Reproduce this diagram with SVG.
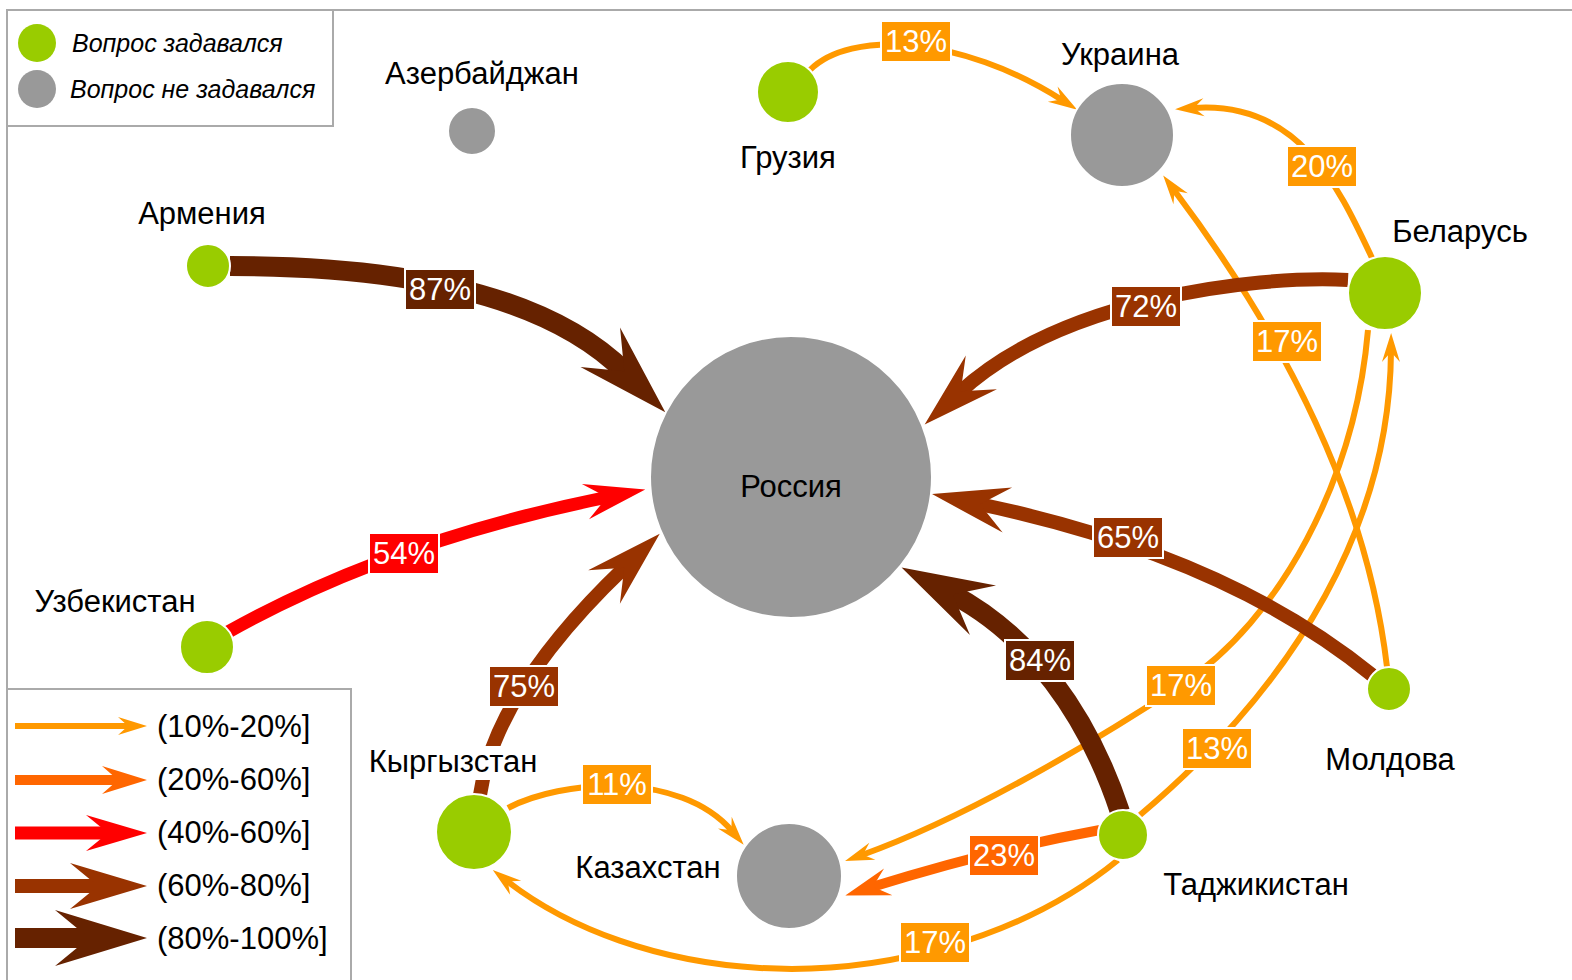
<svg xmlns="http://www.w3.org/2000/svg" width="1572" height="980" viewBox="0 0 1572 980">
<style>
text{font-family:"Liberation Sans",Arial,sans-serif;}
.nl{font-size:31px;fill:#000;text-anchor:middle;}
.lg{font-size:25px;font-style:italic;fill:#000;}
.lt{font-size:31px;fill:#000;}
.pl{font-size:31px;fill:#fff;text-anchor:middle;}
.g{fill:#99CC00;stroke:#fff;stroke-width:2;}
.k{fill:#999999;stroke:#fff;stroke-width:2;}
.frame{fill:#fff;stroke:#aaaaaa;stroke-width:2;}
.c{fill:none;}
.a{stroke:#FF9900;stroke-width:6;marker-end:url(#mA);}
.b{stroke:#FF6600;stroke-width:10;marker-end:url(#mB);}
.r{stroke:#FF0000;stroke-width:13;marker-end:url(#mC);}
.d{stroke:#993300;stroke-width:14;marker-end:url(#mD);}
.e{stroke:#662200;stroke-width:20;marker-end:url(#mE);}
.bx{stroke:#fff;stroke-width:2;}
</style>
<defs>
<marker id="mA" markerUnits="userSpaceOnUse" orient="auto" refX="0" refY="0" markerWidth="1" markerHeight="1" overflow="visible"><path d="M18,0 L-11,-9 L-1,0 L-11,9 Z" fill="#FF9900"/></marker>
<marker id="mB" markerUnits="userSpaceOnUse" orient="auto" refX="0" refY="0" markerWidth="1" markerHeight="1" overflow="visible"><path d="M28,0 L-17,-14 L-1,0 L-17,14 Z" fill="#FF6600"/></marker>
<marker id="mC" markerUnits="userSpaceOnUse" orient="auto" refX="0" refY="0" markerWidth="1" markerHeight="1" overflow="visible"><path d="M38,0 L-23,-18 L-1,0 L-23,18 Z" fill="#FF0000"/></marker>
<marker id="mD" markerUnits="userSpaceOnUse" orient="auto" refX="0" refY="0" markerWidth="1" markerHeight="1" overflow="visible"><path d="M48,0 L-29,-23 L-1,0 L-29,23 Z" fill="#993300"/></marker>
<marker id="mE" markerUnits="userSpaceOnUse" orient="auto" refX="0" refY="0" markerWidth="1" markerHeight="1" overflow="visible"><path d="M57,0 L-35,-28 L-1,0 L-35,28 Z" fill="#662200"/></marker>
</defs>
<rect width="1572" height="980" fill="#fff"/>
<path d="M7,980 L7,10 L1572,10" fill="none" stroke="#aaaaaa" stroke-width="2"/>

<g id="connectors">
  <path class="c a" d="M810,70 C850,30 960,35 1062,100"/>
  <path class="c a" d="M1372,258 C1340,190 1300,100 1193,108"/>
  <path class="c a" d="M1387,667 Q1360,437 1174,190"/>
  <path class="c a" d="M1140,815 C1300,680 1390,520 1391,351"/>
  <path class="c a" d="M1368,330 C1355,480 1280,620 1181,685 S960,820 862,855"/>
  <path class="c a" d="M508,808 C560,780 680,770 732,831"/>
  <path class="c a" d="M1118,860 C1020,940 880,975 760,968 C660,962 570,930 507,881"/>
  <path class="c b" d="M1100,830 Q990,850 872,887"/>
  <path class="c r" d="M228,632 Q390,541 608,497"/>
  <path class="c e" d="M230,266 Q519,266 625,372"/>
  <path class="c d" d="M480,795 Q495,691 625,567"/>
  <path class="c e" d="M1120,812 C1088,715 1030,635 952,594"/>
  <path class="c d" d="M1372,675 C1280,600 1150,540 979,504"/>
  <path class="c d" d="M1348,280 C1250,275 1060,300 960,392"/>
  <g id="labels">
    <rect class="bx" x="881" y="21" width="70" height="41" fill="#FF9900"/><text class="pl" x="916" y="52">13%</text>
    <rect class="bx" x="1287" y="146" width="70" height="41" fill="#FF9900"/><text class="pl" x="1322" y="177">20%</text>
    <rect class="bx" x="405" y="269" width="70" height="41" fill="#662200"/><text class="pl" x="440" y="300">87%</text>
    <rect class="bx" x="1111" y="286" width="70" height="41" fill="#993300"/><text class="pl" x="1146" y="317">72%</text>
    <rect class="bx" x="1252" y="321" width="70" height="41" fill="#FF9900"/><text class="pl" x="1287" y="352">17%</text>
    <rect class="bx" x="369" y="533" width="70" height="41" fill="#FF0000"/><text class="pl" x="404" y="564">54%</text>
    <rect class="bx" x="1093" y="517" width="70" height="41" fill="#993300"/><text class="pl" x="1128" y="548">65%</text>
    <rect class="bx" x="1005" y="640" width="70" height="41" fill="#662200"/><text class="pl" x="1040" y="671">84%</text>
    <rect class="bx" x="489" y="666" width="70" height="41" fill="#993300"/><text class="pl" x="524" y="697">75%</text>
    <rect class="bx" x="1146" y="665" width="70" height="41" fill="#FF9900"/><text class="pl" x="1181" y="696">17%</text>
    <rect class="bx" x="1182" y="728" width="70" height="41" fill="#FF9900"/><text class="pl" x="1217" y="759">13%</text>
    <rect class="bx" x="582" y="764" width="70" height="41" fill="#FF9900"/><text class="pl" x="617" y="795">11%</text>
    <rect class="bx" x="969" y="835" width="70" height="41" fill="#FF6600"/><text class="pl" x="1004" y="866">23%</text>
    <rect class="bx" x="900" y="922" width="70" height="41" fill="#FF9900"/><text class="pl" x="935" y="953">17%</text>
  </g>
</g>

<g id="russia"><circle class="k" cx="791" cy="477" r="141"/><text class="nl" x="791" y="497">Россия</text></g>
<g id="ukraine"><circle class="k" cx="1122" cy="135" r="52"/><text class="nl" x="1120" y="65">Украина</text></g>
<g id="georgia"><circle class="g" cx="788" cy="92" r="31"/><text class="nl" x="788" y="168">Грузия</text></g>
<g id="azerbaijan"><circle class="k" cx="472" cy="131" r="24"/><text class="nl" x="482" y="84">Азербайджан</text></g>
<g id="armenia"><circle class="g" cx="208" cy="266" r="22"/><text class="nl" x="202" y="224">Армения</text></g>
<g id="belarus"><circle class="g" cx="1385" cy="293" r="37"/><text class="nl" x="1460" y="242">Беларусь</text></g>
<g id="uzbekistan"><circle class="g" cx="207" cy="647" r="27"/><text class="nl" x="115" y="612">Узбекистан</text></g>
<g id="moldova"><circle class="g" cx="1389" cy="689" r="22"/><text class="nl" x="1390" y="770">Молдова</text></g>
<g id="kyrgyzstan"><circle class="g" cx="474" cy="832" r="38"/><rect x="369" y="746" width="168" height="34" fill="#fff"/><text class="nl" x="453" y="772">Кыргызстан</text></g>
<g id="kazakhstan"><circle class="k" cx="789" cy="876" r="53"/><text class="nl" x="648" y="878">Казахстан</text></g>
<g id="tajikistan"><circle class="g" cx="1123" cy="835" r="25"/><text class="nl" x="1256" y="895">Таджикистан</text></g>

<g id="legend-nodes">
  <rect class="frame" x="7" y="10" width="326" height="116"/>
  <circle cx="37" cy="43" r="19" fill="#99CC00"/>
  <text class="lg" x="72" y="52">Вопрос задавался</text>
  <circle cx="37" cy="89" r="19" fill="#999999"/>
  <text class="lg" x="70" y="98">Вопрос не задавался</text>
</g>
<g id="legend-arrows">
  <rect class="frame" x="7" y="689" width="344" height="300"/>
  <path class="c a" d="M15,726 L129,726"/>
  <text class="lt" x="157" y="737">(10%-20%]</text>
  <path class="c b" d="M15,780 L119,780"/>
  <text class="lt" x="157" y="790">(20%-60%]</text>
  <path class="c r" d="M15,833 L109,833"/>
  <text class="lt" x="157" y="843">(40%-60%]</text>
  <path class="c d" d="M15,886 L99,886"/>
  <text class="lt" x="157" y="896">(60%-80%]</text>
  <path class="c e" d="M15,938 L90,938"/>
  <text class="lt" x="157" y="949">(80%-100%]</text>
</g>
</svg>
